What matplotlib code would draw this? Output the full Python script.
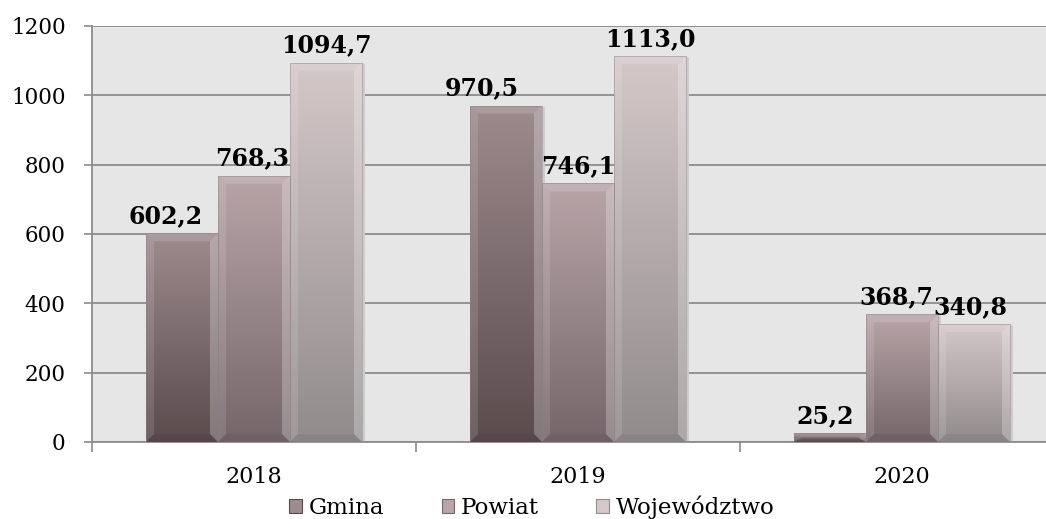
import numpy as np
import matplotlib
matplotlib.use("Agg")
import matplotlib.pyplot as plt
from matplotlib.patches import Polygon, Patch
from matplotlib.colors import LinearSegmentedColormap

years = ["2018", "2019", "2020"]
series = ["Gmina", "Powiat", "Województwo"]
gmina = [602.2, 970.5, 25.2]
powiat = [768.3, 746.1, 368.7]
wojewodztwo = [1094.7, 1113.0, 340.8]
labels = {
    "Gmina": ["602,2", "970,5", "25,2"],
    "Powiat": ["768,3", "746,1", "368,7"],
    "Województwo": ["1094,7", "1113,0", "340,8"],
}
values = {"Gmina": gmina, "Powiat": powiat, "Województwo": wojewodztwo}
# horizontal nudges of the value labels, in pixels
label_dx = {
    "Gmina": [-16, -24, -5],
    "Powiat": [-2, 0, -6],
    "Województwo": [0, 0, -4],
}
# (top colour, bottom colour)
colors = {
    "Gmina": ("#9e8b8e", "#5a4b4d"),
    "Powiat": ("#b9a5a8", "#74666a"),
    "Województwo": ("#d5c8c9", "#918b8c"),
}

plt.rcParams['font.family'] = ['DejaVu Serif']

W, H = 1046, 519
fig = plt.figure(figsize=(W / 100, H / 100), dpi=100)
left_px, right_px, top_px, bot_px = 92, 1064, 26, 442
ax = fig.add_axes([left_px / W, 1 - bot_px / H, (right_px - left_px) / W, (bot_px - top_px) / H])
ax.set_facecolor("#e6e6e6")

ax.set_xlim(-0.5, 2.5)
ax.set_ylim(0, 1200)
ax.set_yticks(np.arange(0, 1201, 200))
ax.yaxis.grid(True, color="#8c8c8c", lw=1.3)
ax.set_axisbelow(True)

px_x = 3.0 / (right_px - left_px)
px_y = 1200.0 / (bot_px - top_px)

bw = 72 * px_x
x = np.arange(len(years))
offsets = [-bw, 0, bw]

for si, s in enumerate(series):
    top_c, bot_c = colors[s]
    cmap = LinearSegmentedColormap.from_list(s, [bot_c, top_c])
    bars = ax.bar(x + offsets[si], values[s], width=bw, facecolor="none",
                  edgecolor="none", zorder=3)
    for bi, rect in enumerate(bars):
        x0 = rect.get_x()
        x1 = x0 + rect.get_width()
        h = rect.get_height()
        # shadow
        ax.add_patch(Polygon([[x1, 0], [x1 + 3 * px_x, 0], [x1 + 3 * px_x, h - 2 * px_y], [x1, h]],
                             closed=True, facecolor="#cccccc", edgecolor="none", zorder=2))
        grad = np.linspace(0, 1, 256).reshape(-1, 1)
        im = ax.imshow(grad, extent=(x0, x1, 0, h), origin="lower", cmap=cmap,
                       aspect="auto", zorder=3, interpolation="bilinear")
        im.set_clip_path(rect)
        # bevel
        bx = 8 * px_x
        by = min(8 * px_y, h / 2)
        bxx = min(bx, (x1 - x0) / 2)
        ax.add_patch(Polygon([[x0, h], [x1, h], [x1 - bxx, h - by], [x0 + bxx, h - by]],
                             closed=True, facecolor="white", alpha=0.15, edgecolor="none", zorder=4))
        ax.add_patch(Polygon([[x0, 0], [x0, h], [x0 + bxx, h - by], [x0 + bxx, by]],
                             closed=True, facecolor="white", alpha=0.12, edgecolor="none", zorder=4))
        ax.add_patch(Polygon([[x1, 0], [x1, h], [x1 - bxx, h - by], [x1 - bxx, by]],
                             closed=True, facecolor="white", alpha=0.25, edgecolor="none", zorder=4))
        ax.add_patch(Polygon([[x0, 0], [x1, 0], [x1 - bxx, by], [x0 + bxx, by]],
                             closed=True, facecolor="black", alpha=0.05, edgecolor="none", zorder=4))
        ax.add_patch(Polygon([[x0, 0], [x0, h], [x1, h], [x1, 0]], closed=True,
                             facecolor="none", edgecolor="#8a7f80", lw=0.6, alpha=0.5, zorder=5))
        ax.text(x0 + (x1 - x0) / 2 + label_dx[s][bi] * px_x, h + 10 * px_y, labels[s][bi],
                ha="center", va="baseline", fontsize=17, fontweight="bold",
                color="black", zorder=6)

ax.set_xticks([0, 1, 2])
ax.set_xticklabels(years, fontsize=16)
ax.set_xticks([-0.5, 0.5, 1.5], minor=True)
ax.tick_params(axis="x", which="major", length=0, pad=17)
ax.tick_params(axis="x", which="minor", length=7, color="#8c8c8c", width=1.2, direction="out")
ax.tick_params(axis="y", length=6, color="#8c8c8c", width=1.2, labelsize=15.5, pad=13)
for sp in ["top", "right"]:
    ax.spines[sp].set_visible(False)
for sp in ["left", "bottom"]:
    ax.spines[sp].set_color("#8c8c8c")
    ax.spines[sp].set_linewidth(1.3)

handles = [Patch(facecolor=colors[s][0], edgecolor=colors[s][1], lw=0.8) for s in series]
fig.legend(handles, series, loc="center", bbox_to_anchor=(532 / W, 1 - 507 / H), ncol=3,
           frameon=False, fontsize=16.5, handlelength=0.55, handleheight=0.55,
           handletextpad=0.3, columnspacing=2.5, borderpad=0)

fig.savefig("out.png", dpi=100)
